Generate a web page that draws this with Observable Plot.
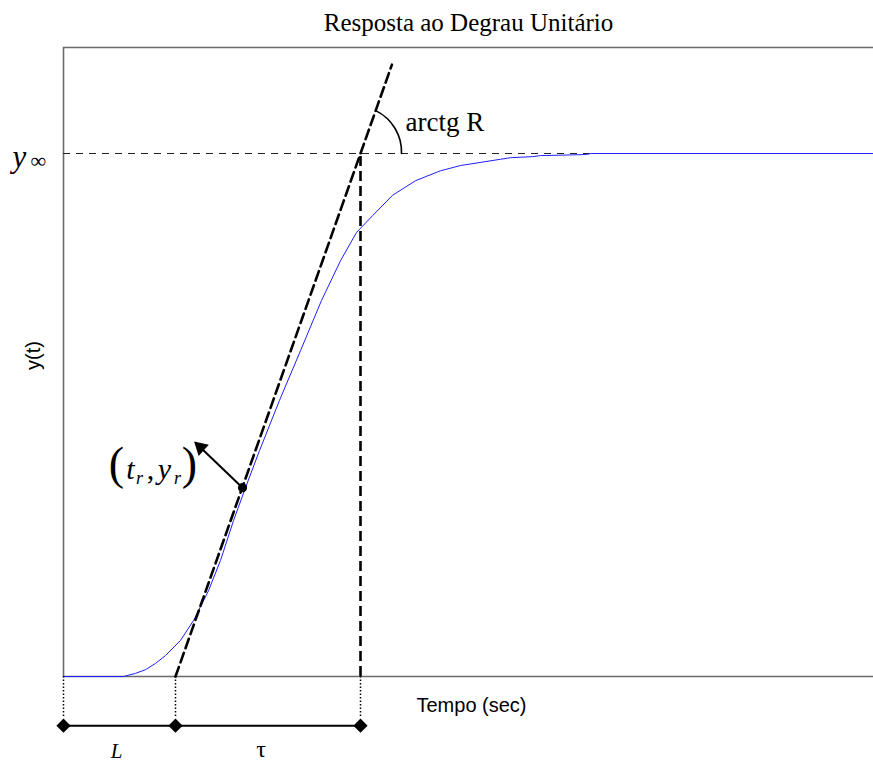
<!DOCTYPE html>
<html>
<head>
<meta charset="utf-8">
<script src="https://cdn.jsdelivr.net/npm/d3@7"></script>
<script src="https://cdn.jsdelivr.net/npm/@observablehq/plot@0.6"></script>
<style>
  body { margin: 0; background: #fff; }
</style>
</head>
<body>
<div id="chart"></div>
<script>
// Unit step response y(t) of the process (time in seconds, output normalised to y∞ = 1)
const timeSec  = [0, 0.60, 0.72, 0.82, 0.92, 1.02, 1.17, 1.30, 1.45, 1.57, 1.70, 1.82, 1.96, 2.16, 2.37, 2.58, 2.77, 2.93, 3.09, 3.29, 3.52, 3.77, 3.97, 4.37, 4.47, 4.69, 4.77, 5.23, 5.27, 8.10];
const response = [0, 0, 0.006, 0.013, 0.025, 0.040, 0.069, 0.107, 0.164, 0.222, 0.298, 0.361, 0.432, 0.528, 0.623, 0.719, 0.795, 0.849, 0.881, 0.920, 0.948, 0.967, 0.977, 0.989, 0.992, 0.994, 0.996, 0.998, 1.0, 1.0];

// Reaction-curve parameters
const yInf = 1;        // final value
const deadTime = 1.12; // L
const timeConst = 1.85; // τ
const inflection = {t: 1.79, y: 0.361}; // (t_r, y_r)
const tangentTop = 1.17; // upper end of the drawn tangent

// Annotation labels
const titleText = "Resposta ao Degrau Unitário";
const xLabel = "Tempo (sec)";
const yLabel = "y(t)";
const angleLabel = "arctg R";

const curve = timeSec.map((t, i) => ({t, y: response[i]}));
const tangent = [
  {t: deadTime, y: 0},
  {t: deadTime + tangentTop * timeConst, y: tangentTop}
];
const tEnd = deadTime + timeConst;
const markers = [0, deadTime, tEnd];

const serif = "Liberation Serif, Times New Roman, serif";
const sans = "Liberation Sans, Arial, sans-serif";
const ink = "#000";
const frameGray = "#6a6a6a";

const yMax = 1.2027;
const barY = -0.094;
const dotBottom = -0.08;

// arrow from the inflection point to its label
const pointer = {x1: inflection.t, y1: inflection.y, x2: 1.37, y2: 0.438};

const chart = Plot.plot({
  width: 873,
  height: 762,
  marginLeft: 63,
  marginRight: 0,
  marginTop: 47,
  marginBottom: 86,
  x: {domain: [0, 8.1], axis: null},
  y: {domain: [0, yMax], axis: null},
  style: {background: "#fff", overflow: "visible"},
  marks: [
    // plot frame (left, top, bottom)
    Plot.ruleX([0], {y1: 0, y2: yMax, stroke: frameGray, strokeWidth: 1.6}),
    Plot.ruleY([0, yMax], {stroke: frameGray, strokeWidth: 1.6}),

    // y∞ reference level
    Plot.ruleY([yInf], {stroke: "#222", strokeWidth: 1, strokeDasharray: "7,6"}),

    // step response
    Plot.line(curve, {x: "t", y: "y", stroke: "#1f1fff", strokeWidth: 1}),

    // tangent at the inflection point and its crossing with y∞
    Plot.line(tangent, {x: "t", y: "y", stroke: ink, strokeWidth: 2.6, strokeDasharray: "10,5"}),
    Plot.ruleX([tEnd], {y1: 0, y2: yInf, stroke: ink, strokeWidth: 2.6, strokeDasharray: "10,5"}),

    // inflection point and pointer
    Plot.link([pointer], {x1: "x1", y1: "y1", x2: "x2", y2: "y2", stroke: ink, strokeWidth: 2}),
    Plot.dot([pointer], {x: "x2", y: "y2", symbol: "triangle", r: 5.6, fill: ink, rotate: -47.7}),
    Plot.dot([inflection], {x: "t", y: "y", r: 4.6, fill: ink}),

    // angle arc for arctg R
    Plot.arrow([{x1: deadTime + 1.082 * timeConst, y1: 1.082, x2: 3.38, y2: yInf}], {
      x1: "x1", y1: "y1", x2: "x2", y2: "y2", bend: 33, headLength: 0, stroke: ink, strokeWidth: 1.6
    }),

    // L and τ dimension line under the axis
    Plot.ruleX(markers, {y1: 0, y2: dotBottom, stroke: ink, strokeWidth: 1.5, strokeDasharray: "1.5,2"}),
    Plot.ruleY([barY], {x1: 0, x2: tEnd, stroke: ink, strokeWidth: 2}),
    Plot.dot(markers, {x: d => d, y: barY, symbol: "diamond2", r: 6.4, fill: ink}),
    Plot.text(["L"], {x: deadTime / 2, frameAnchor: "bottom", dy: 81, lineAnchor: "bottom", dx: -3,
      fontFamily: serif, fontStyle: "italic", fontSize: 21, fill: ink}),
    Plot.text(["τ"], {x: deadTime + timeConst / 2, frameAnchor: "bottom", dy: 80, lineAnchor: "bottom", dx: -7,
      fontFamily: serif, fontSize: 24, fill: ink}),

    // y∞ label
    Plot.text(["y"], {x: 0, y: yInf, dx: -51, dy: 13, textAnchor: "start", lineAnchor: "bottom",
      fontFamily: serif, fontStyle: "italic", fontSize: 31, fill: ink}),
    Plot.text(["∞"], {x: 0, y: yInf, dx: -33, dy: 14, textAnchor: "start", lineAnchor: "bottom",
      fontFamily: serif, fontSize: 22, fill: ink}),

    // (t_r , y_r) label
    Plot.text(["("], {x: inflection.t, y: inflection.y, dx: -126, dy: -9, lineAnchor: "bottom",
      fontFamily: serif, fontSize: 46, fill: ink}),
    Plot.text(["t"], {x: inflection.t, y: inflection.y, dx: -112, dy: -9, lineAnchor: "bottom",
      fontFamily: serif, fontStyle: "italic", fontSize: 30, fill: ink}),
    Plot.text(["r"], {x: inflection.t, y: inflection.y, dx: -103, dy: -4, lineAnchor: "bottom",
      fontFamily: serif, fontStyle: "italic", fontSize: 18, fill: ink}),
    Plot.text([","], {x: inflection.t, y: inflection.y, dx: -92, dy: -9, lineAnchor: "bottom",
      fontFamily: serif, fontSize: 30, fill: ink}),
    Plot.text(["y"], {x: inflection.t, y: inflection.y, dx: -78, dy: -9, lineAnchor: "bottom",
      fontFamily: serif, fontStyle: "italic", fontSize: 30, fill: ink}),
    Plot.text(["r"], {x: inflection.t, y: inflection.y, dx: -65, dy: -4, lineAnchor: "bottom",
      fontFamily: serif, fontStyle: "italic", fontSize: 18, fill: ink}),
    Plot.text([")"], {x: inflection.t, y: inflection.y, dx: -53, dy: -9, lineAnchor: "bottom",
      fontFamily: serif, fontSize: 46, fill: ink}),

    // arctg R label
    Plot.text([angleLabel], {x: tEnd, y: yInf, dx: 45, dy: -23, textAnchor: "start", lineAnchor: "bottom",
      fontFamily: serif, fontSize: 27, fill: ink}),

    // title and axis labels
    Plot.text([titleText], {frameAnchor: "top", dy: -17, lineAnchor: "bottom",
      fontFamily: serif, fontSize: 25, fill: ink}),
    Plot.text([xLabel], {frameAnchor: "bottom", dx: 3, dy: 35, lineAnchor: "bottom",
      fontFamily: sans, fontSize: 20, fill: ink}),
    Plot.text([yLabel], {frameAnchor: "left", dx: -30, dy: 8, rotate: -90,
      fontFamily: sans, fontSize: 20, fill: ink})
  ]
});

document.getElementById("chart").appendChild(chart);
</script>
</body>
</html>
